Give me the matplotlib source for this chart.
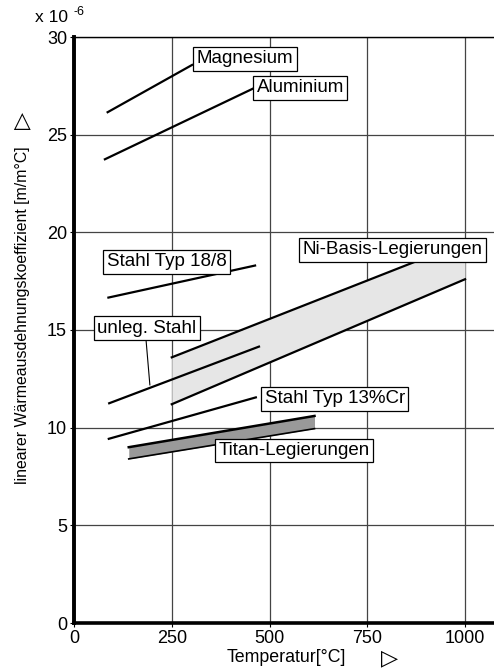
import numpy as np
from matplotlib import pyplot as plt

plt.rcParams['font.family'] = ['Liberation Sans', 'DejaVu Sans']

# lineare Kennlinien: Temperatur [°C] -> Koeffizient [1e-6 m/m°C]
mg_t = [86, 302]
mg_a = [26.15, 28.57]
al_t = [79, 460]
al_a = [23.74, 27.38]
st188_t = [88, 463]
st188_a = [16.66, 18.30]
unleg_t = [90, 473]
unleg_a = [11.25, 14.15]
cr13_t = [89, 465]
cr13_a = [9.43, 11.55]

# Streubaender
ni_t = [250, 1000]
ni_hi = [13.6, 19.5]
ni_lo = [11.2, 17.6]
ti_t = [140, 615]
ti_hi = [9.0, 10.6]
ti_lo = [8.4, 9.95]

# Beschriftungen (Textanfang links, Mitte vertikal)
labels = ["Magnesium", "Aluminium", "Stahl Typ 18/8", "unleg. Stahl",
          "Ni-Basis-Legierungen", "Stahl Typ 13%Cr", "Titan-Legierungen"]
label_t = [314, 467, 84, 60, 585, 488, 369]
label_a = [28.88, 27.39, 18.5, 15.10, 19.1, 11.48, 8.83]

xticks = [0, 250, 500, 750, 1000]
yticks = [0, 5, 10, 15, 20, 25, 30]

W, H = 494, 670
fig = plt.figure(figsize=(W / 100, H / 100), dpi=100)
ax = fig.add_axes([74 / W, 47 / H, 420 / W, 586 / H])
ax.set_xlim(0, 1074)
ax.set_ylim(0, 30)

ax.set_xticks(xticks)
ax.set_yticks(yticks)
ax.tick_params(direction='out', length=3, width=0.8, labelsize=13, pad=2)
ax.grid(True, color='#444444', lw=0.9, zorder=0)
ax.set_axisbelow(True)

ax.spines['left'].set_linewidth(2.8)
ax.spines['bottom'].set_linewidth(2.6)
ax.spines['top'].set_linewidth(1.0)
ax.spines['right'].set_visible(False)

# Baender
ax.fill_between(ni_t, ni_lo, ni_hi, color='#e6e6e6', lw=0, zorder=1)
ax.plot(ni_t, ni_hi, color='black', lw=1.6, zorder=3)
ax.plot(ni_t, ni_lo, color='black', lw=1.6, zorder=3)
ax.fill_between(ti_t, ti_lo, ti_hi, color='#999999', lw=0, zorder=1)
ax.plot(ti_t, ti_hi, color='black', lw=1.8, zorder=3)
ax.plot(ti_t, ti_lo, color='black', lw=1.2, zorder=3)

for t, a in [(mg_t, mg_a), (al_t, al_a), (st188_t, st188_a),
             (unleg_t, unleg_a), (cr13_t, cr13_a)]:
    ax.plot(t, a, color='black', lw=1.6, zorder=3)

# Hinweislinie unleg. Stahl
ax.plot([184, 194], [14.54, 12.19], color='black', lw=0.8, zorder=3)

for txt, t, a in zip(labels, label_t, label_a):
    ax.text(t, a, txt, ha='left', va='center', fontsize=13.5, zorder=5,
            bbox=dict(boxstyle='square,pad=0.18', fc='white', ec='black', lw=0.9))

# Achsbeschriftungen
fig.text(23 / W, 1 - 315 / H, "linearer Wärmeausdehnungskoeffizient [m/m°C]",
         rotation=90, ha='center', va='center', fontsize=11.4)
fig.text(22 / W, 1 - 120 / H, "▷", rotation=90, ha='center', va='center',
         fontsize=16, family=['DejaVu Sans'])
fig.text(286 / W, 1 - 658 / H, "Temperatur[°C]", ha='center', va='center',
         fontsize=12.8)
fig.text(390 / W, 1 - 658 / H, "▷", ha='center', va='center', fontsize=16,
         family=['DejaVu Sans'])
fig.text(35 / W, 1 - 22 / H, "x 10", ha='left', va='baseline', fontsize=12.5)
fig.text(73 / W, 1 - 15 / H, "-6", ha='left', va='baseline', fontsize=9)

plt.savefig("out.png", dpi=100)
plt.close()
